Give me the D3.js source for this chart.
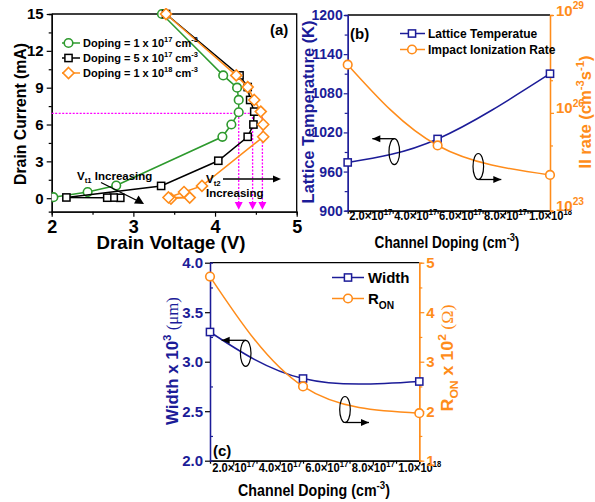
<!DOCTYPE html>
<html>
<head>
<meta charset="utf-8">
<script src="https://cdn.jsdelivr.net/npm/d3@7"></script>
<style>
  body { margin: 0; background: #fff; }
  svg text { font-family: 'Liberation Sans', Arial, sans-serif; font-weight: bold; }
</style>
</head>
<body>
<div id="chart"></div>
<script>
// ---- data: panel (a) drain current vs drain voltage
const vdGreen = [2.02, 2.44, 2.79, 4.09, 4.20, 4.29, 4.29, 4.27, 4.10, 3.35];
const idGreen = [0.08, 0.5, 1.03, 5.0, 6.0, 7.0, 8.0, 9.0, 10.0, 15.0];
const vdBlack = [2.84, 2.76, 2.68, 2.18, 3.34, 4.04, 4.40, 4.47, 4.48, 4.43, 4.40, 4.30, 3.40];
const idBlack = [0.03, 0.05, 0.04, 0.06, 1.0, 3.05, 5.0, 6.0, 7.05, 8.0, 9.05, 10.0, 15.0];
const vdOrange = [3.46, 3.69, 3.43, 3.62, 3.84, 4.59, 4.59, 4.56, 4.48, 4.40, 4.26, 3.40];
const idOrange = [-0.03, 0.05, 0.06, 0.5, 1.0, 5.0, 6.0, 7.05, 8.0, 9.05, 10.0, 15.0];
const dopingLabels = ["1 x 10", "5 x 10", "1 x 10"];
const dopingExp = ["17", "17", "18"];
const vt2 = [4.29, 4.46, 4.58];
const holdCurrent = 6.9;

// ---- data: panel (b) and (c) vs channel doping
const doping = [1e17, 5e17, 1e18];
const latticeTemp = [974, 1010, 1110];
const iiRate = [3.0e27, 1.0e25, 1.25e24];
const widthVals = [3.30, 2.83, 2.80];
const ronVals = [4.72, 2.50, 1.96];
const dopingTicks = [2e17, 4e17, 6e17, 8e17, 1e18];

const navy = "#1c1c98", orange = "#ff8c1a", green = "#2e9a2e", magenta = "#ff00ff";

const svg = d3.select("#chart").append("svg")
  .attr("width", 595).attr("height", 502);

// text with sup/sub parts: [[str, 'n'|'sup'|'sub'|'sym'], ...]
function rich(sel, parts, size) {
  let prev = 0;
  parts.forEach(([s, t]) => {
    const shift = t === "sup" ? -0.42 * size : t === "sub" ? 0.3 * size : 0;
    const ts = sel.append("tspan")
      .attr("dy", shift - prev)
      .attr("font-size", (t === "n" || t === "sym") ? size : size * 0.68)
      .text(s);
    if (t === "sym") ts.style("font-family", "'Liberation Serif', serif").style("font-weight", "normal");
    prev = shift;
  });
  return sel;
}

// axis title squeezed to the width measured on the reference
function title(g, x, y, rot, parts, size, color, width) {
  const t = g.append("text").attr("text-anchor", "middle").attr("fill", color);
  rich(t, parts, size);
  const k = width / t.node().getComputedTextLength();
  t.attr("transform", `translate(${x},${y}) rotate(${rot}) scale(${k},1)`);
  return t;
}

function sciLabel(d) {
  const e = Math.floor(Math.log10(d) + 1e-9);
  const m = d / Math.pow(10, e);
  return [[m.toFixed(1) + "\u00d710", "n"], [String(e), "sup"]];
}

function sciTicks(g) {
  g.selectAll(".tick text").each(function (d) {
    const t = d3.select(this).text(null);
    rich(t, sciLabel(d), 12);
    const k = 43 / this.getComputedTextLength();
    t.attr("transform", `scale(${k},1)`);
  });
}

function styleAxis(g, color, size) {
  g.select(".domain").attr("stroke", color).attr("stroke-width", 1.3);
  g.selectAll(".tick line").attr("stroke", color).attr("stroke-width", 1.2);
  g.selectAll(".tick text").attr("fill", color).attr("font-size", size)
    .attr("font-family", "'Liberation Sans', Arial, sans-serif").attr("font-weight", "bold");
}

function arrowHead(g, x, y, dir, color) {
  const s = dir === "left" ? -1 : 1;
  g.append("path")
    .attr("d", `M${x},${y} L${x - s * 8},${y - 3.5} L${x - s * 8},${y + 3.5} Z`)
    .attr("fill", color || "#000");
}

function ellipseArrow(g, cx, cy, dir, len) {
  g.append("ellipse").attr("cx", cx).attr("cy", cy).attr("rx", 5.3).attr("ry", 13)
    .attr("fill", "none").attr("stroke", "#000").attr("stroke-width", 1.2);
  const y = dir === "left" ? cy - 13 : cy + 13;
  const x2 = dir === "left" ? cx - len : cx + len;
  g.append("line").attr("x1", cx).attr("x2", x2).attr("y1", y).attr("y2", y)
    .attr("stroke", "#000").attr("stroke-width", 1.3);
  arrowHead(g, x2, y, dir);
}

function marker(g, type, x, y, color) {
  if (type === "circle") {
    g.append("circle").attr("cx", x).attr("cy", y).attr("r", 4.3)
      .attr("fill", "#fff").attr("stroke", color).attr("stroke-width", 1.6);
  } else if (type === "square") {
    g.append("rect").attr("x", x - 3.6).attr("y", y - 3.6).attr("width", 7.2).attr("height", 7.2)
      .attr("fill", "#fff").attr("stroke", color).attr("stroke-width", 1.5);
  } else {
    g.append("path").attr("d", `M${x},${y - 5.5} L${x + 5.5},${y} L${x},${y + 5.5} L${x - 5.5},${y} Z`)
      .attr("fill", "#fff").attr("stroke", color).attr("stroke-width", 1.6);
  }
}

// ================= panel (a) =================
const A = { l: 51.7, r: 296.7, t: 14, b: 211.7 };
const xa = d3.scaleLinear().domain([2, 5]).range([A.l, A.r]);
const ya = d3.scaleLinear().domain([-1.1, 15]).range([A.b, A.t]);
const ga = svg.append("g");

ga.append("clipPath").attr("id", "clipA").append("rect")
  .attr("x", A.l).attr("y", A.t - 6).attr("width", A.r - A.l).attr("height", A.b - A.t + 6);

ga.append("g").attr("transform", `translate(0,${A.b})`)
  .call(d3.axisBottom(xa).tickValues([2, 3, 4, 5]).tickSize(5).tickSizeOuter(0).tickPadding(4).tickFormat(d3.format("d")))
  .call(g => styleAxis(g, "#000", 18));
ga.append("g").attr("transform", `translate(0,${A.b})`)
  .call(d3.axisBottom(xa).tickValues([2.5, 3.5, 4.5]).tickSize(3).tickFormat(""))
  .call(g => styleAxis(g, "#000", 0));
ga.append("g").attr("transform", `translate(${A.l},0)`)
  .call(d3.axisLeft(ya).tickValues([0, 3, 6, 9, 12, 15]).tickSize(5).tickSizeOuter(0).tickPadding(3).tickFormat(d3.format("d")))
  .call(g => styleAxis(g, "#000", 15));
ga.append("g").attr("transform", `translate(${A.l},0)`)
  .call(d3.axisLeft(ya).tickValues([1.5, 4.5, 7.5, 10.5, 13.5]).tickSize(3).tickFormat(""))
  .call(g => styleAxis(g, "#000", 0));
ga.append("path").attr("d", `M${A.l},${A.t} H${A.r} V${A.b}`)
  .attr("fill", "none").attr("stroke", "#000").attr("stroke-width", 1.3);

// magenta guides
ga.append("line").attr("x1", A.l).attr("x2", xa(vt2[2])).attr("y1", ya(holdCurrent)).attr("y2", ya(holdCurrent))
  .attr("stroke", magenta).attr("stroke-width", 1.3).attr("stroke-dasharray", "2,1.5");
vt2.forEach(v => {
  ga.append("line").attr("x1", xa(v)).attr("x2", xa(v)).attr("y1", ya(holdCurrent)).attr("y2", ya(-0.5))
    .attr("stroke", magenta).attr("stroke-width", 1.3).attr("stroke-dasharray", "2,1.5");
  ga.append("path")
    .attr("d", `M${xa(v) - 4},${ya(-0.3)} L${xa(v) + 4},${ya(-0.3)} L${xa(v)},${ya(-0.95)} Z`)
    .attr("fill", magenta);
});

const seriesA = [
  { vd: vdGreen, id: idGreen, color: green, type: "circle" },
  { vd: vdBlack, id: idBlack, color: "#000", type: "square" },
  { vd: vdOrange, id: idOrange, color: orange, type: "diamond" }
];
const lineA = d3.line().x(d => xa(d[0])).y(d => ya(d[1]));
seriesA.forEach(s => {
  const pts = s.vd.map((v, i) => [v, s.id[i]]);
  const gs = ga.append("g").attr("clip-path", "url(#clipA)");
  gs.append("path").attr("d", lineA(pts)).attr("fill", "none")
    .attr("stroke", s.color).attr("stroke-width", 1.5);
  pts.forEach(p => marker(gs, s.type, xa(p[0]), ya(p[1]), s.color));
});

// legend (a)
seriesA.forEach((s, i) => {
  const y = 43 + i * 15;
  ga.append("line").attr("x1", 62).attr("x2", 80).attr("y1", y).attr("y2", y)
    .attr("stroke", s.color).attr("stroke-width", 1.5);
  marker(ga, s.type, 68.5, y, s.color);
  const t = ga.append("text").attr("x", 83).attr("y", y + 4);
  rich(t, [["Doping = " + dopingLabels[i], "n"], [dopingExp[i], "sup"], [" cm", "n"], ["-3", "sup"]], 11);
});

ga.append("text").attr("x", 270).attr("y", 35).attr("font-size", 15).text("(a)");

// V_t1 annotation
rich(ga.append("text").attr("x", 77).attr("y", 180), [["V", "n"], ["t1", "sub"], [" Increasing", "n"]], 11.5);
ga.append("line").attr("x1", 101).attr("y1", 182.5).attr("x2", 139).attr("y2", 201.5)
  .attr("stroke", "#000").attr("stroke-width", 1.3);
ga.append("path").attr("d", "M144,204 L134,203.5 L138.5,195.5 Z").attr("fill", "#000");

// V_t2 annotation
rich(ga.append("text").attr("x", 206).attr("y", 183), [["V", "n"], ["t2", "sub"]], 11.5);
ga.append("line").attr("x1", 223).attr("x2", 274).attr("y1", 179).attr("y2", 179)
  .attr("stroke", "#000").attr("stroke-width", 1.3);
arrowHead(ga, 281, 179, "right");
ga.append("text").attr("x", 206).attr("y", 197).attr("font-size", 11.5).text("Increasing");

title(ga, 171, 249, 0, [["Drain Voltage (V)", "n"]], 18, "#000", 149);
title(ga, 26, 114, -90, [["Drain Current (mA)", "n"]], 17, "#000", 142);

// ================= panel (b) =================
const B = { l: 347.7, r: 550, t: 15, b: 210.7 };
const xb = d3.scaleLinear().domain([1e17, 1e18]).range([B.l, B.r]);
const ybL = d3.scaleLinear().domain([900, 1200]).range([B.b, B.t]);
const ybR = d3.scaleLog().domain([1e23, 1e29]).range([B.b, B.t]);
const gb = svg.append("g");

gb.append("line").attr("x1", B.l).attr("x2", B.r).attr("y1", B.t).attr("y2", B.t)
  .attr("stroke", "#000").attr("stroke-width", 1.3);

gb.append("g").attr("transform", `translate(0,${B.b})`)
  .call(d3.axisBottom(xb).tickValues(dopingTicks).tickSize(4).tickSizeOuter(0).tickPadding(5))
  .call(g => styleAxis(g, "#000", 12))
  .call(sciTicks);
gb.append("g").attr("transform", `translate(0,${B.b})`)
  .call(d3.axisBottom(xb).tickValues([3e17, 5e17, 7e17, 9e17]).tickSize(3).tickFormat(""))
  .call(g => styleAxis(g, "#000", 0));

gb.append("g").attr("transform", `translate(${B.l},0)`)
  .call(d3.axisLeft(ybL).tickValues(d3.range(900, 1201, 60)).tickSize(4).tickSizeOuter(0).tickPadding(1).tickFormat(d3.format("d")))
  .call(g => styleAxis(g, navy, 14));
gb.append("g").attr("transform", `translate(${B.l},0)`)
  .call(d3.axisLeft(ybL).tickValues(d3.range(930, 1200, 60)).tickSize(3).tickFormat(""))
  .call(g => styleAxis(g, navy, 0));

gb.append("g").attr("transform", `translate(${B.r},0)`)
  .call(d3.axisRight(ybR).tickValues([1e23, 1e26, 1e29]).tickSize(4).tickSizeOuter(0).tickPadding(2))
  .call(g => styleAxis(g, orange, 15))
  .call(g => g.selectAll(".tick text").each(function (d) {
    const t = d3.select(this).text(null);
    rich(t, [["10", "n"], [String(Math.round(Math.log10(d))), "sup"]], 15);
  }));
gb.append("g").attr("transform", `translate(${B.r},0)`)
  .call(d3.axisRight(ybR).tickValues([1e24, 1e25, 1e27, 1e28]).tickSize(3).tickFormat(""))
  .call(g => styleAxis(g, orange, 0));

const curveB1 = d3.line().curve(d3.curveNatural).x((d, i) => xb(doping[i])).y(d => ybL(d));
const curveB2 = d3.line().curve(d3.curveNatural).x((d, i) => xb(doping[i])).y(d => ybR(d));
gb.append("path").attr("d", curveB1(latticeTemp)).attr("fill", "none").attr("stroke", navy).attr("stroke-width", 1.5);
gb.append("path").attr("d", curveB2(iiRate)).attr("fill", "none").attr("stroke", orange).attr("stroke-width", 1.5);
latticeTemp.forEach((v, i) => marker(gb, "square", xb(doping[i]), ybL(v), navy));
iiRate.forEach((v, i) => marker(gb, "circle", xb(doping[i]), ybR(v), orange));

ellipseArrow(gb, 394.3, 151.7, "left", 22);
ellipseArrow(gb, 478.3, 166.5, "right", 23);

gb.append("text").attr("x", 350).attr("y", 39).attr("font-size", 15).text("(b)");
[["Lattice Temperatue", navy, "square"], ["Impact Ionization Rate", orange, "circle"]].forEach((d, i) => {
  const y = 33.5 + i * 16;
  gb.append("line").attr("x1", 400).attr("x2", 425).attr("y1", y).attr("y2", y)
    .attr("stroke", d[1]).attr("stroke-width", 1.5);
  marker(gb, d[2], 412, y, d[1]);
  gb.append("text").attr("x", 428).attr("y", y + 4.5).attr("font-size", 12).text(d[0]);
});

title(gb, 447, 248, 0, [["Channel Doping (cm", "n"], ["-3", "sup"], [")", "n"]], 16, "#000", 145);
title(gb, 314, 112, -90, [["Lattice Temperature (K)", "n"]], 17, navy, 183);
title(gb, 591, 112, -90, [["II rate (cm", "n"], ["-3", "sup"], ["s", "n"], ["-1", "sup"], [")", "n"]], 17, orange, 113);

// ================= panel (c) =================
const C = { l: 210, r: 419.3, t: 262.7, b: 460.7 };
const xc = d3.scaleLinear().domain([1e17, 1e18]).range([C.l, C.r]);
const ycL = d3.scaleLinear().domain([2, 4]).range([C.b, C.t]);
const ycR = d3.scaleLinear().domain([1, 5]).range([C.b, C.t]);
const gc = svg.append("g");

gc.append("line").attr("x1", C.l).attr("x2", C.r).attr("y1", C.t).attr("y2", C.t)
  .attr("stroke", "#000").attr("stroke-width", 1.3);

gc.append("g").attr("transform", `translate(0,${C.b})`)
  .call(d3.axisBottom(xc).tickValues(dopingTicks).tickSize(4).tickSizeOuter(0).tickPadding(7))
  .call(g => styleAxis(g, "#000", 12))
  .call(sciTicks);
gc.append("g").attr("transform", `translate(0,${C.b})`)
  .call(d3.axisBottom(xc).tickValues([3e17, 5e17, 7e17, 9e17]).tickSize(3).tickFormat(""))
  .call(g => styleAxis(g, "#000", 0));

gc.append("g").attr("transform", `translate(${C.l},0)`)
  .call(d3.axisLeft(ycL).tickValues([2, 2.5, 3, 3.5, 4]).tickSize(5).tickSizeOuter(0).tickPadding(2).tickFormat(d3.format(".1f")))
  .call(g => styleAxis(g, navy, 15))
  .call(g => g.selectAll(".tick line").attr("stroke", "#000"));
gc.append("g").attr("transform", `translate(${C.l},0)`)
  .call(d3.axisRight(ycL).tickValues([2.25, 2.75, 3.25, 3.75]).tickSize(3).tickFormat(""))
  .call(g => styleAxis(g, navy, 0));

gc.append("g").attr("transform", `translate(${C.r},0)`)
  .call(d3.axisRight(ycR).tickValues([1, 2, 3, 4, 5]).tickSize(5).tickSizeOuter(0).tickPadding(2).tickFormat(d3.format("d")))
  .call(g => styleAxis(g, orange, 15));
gc.append("g").attr("transform", `translate(${C.r},0)`)
  .call(d3.axisRight(ycR).tickValues([1.5, 2.5, 3.5, 4.5]).tickSize(3).tickFormat(""))
  .call(g => styleAxis(g, orange, 0));

const curveC1 = d3.line().curve(d3.curveNatural).x((d, i) => xc(doping[i])).y(d => ycL(d));
const curveC2 = d3.line().curve(d3.curveNatural).x((d, i) => xc(doping[i])).y(d => ycR(d));
gc.append("path").attr("d", curveC1(widthVals)).attr("fill", "none").attr("stroke", navy).attr("stroke-width", 1.5);
gc.append("path").attr("d", curveC2(ronVals)).attr("fill", "none").attr("stroke", orange).attr("stroke-width", 1.5);
widthVals.forEach((v, i) => marker(gc, "square", xc(doping[i]), ycL(v), navy));
ronVals.forEach((v, i) => marker(gc, "circle", xc(doping[i]), ycR(v), orange));

ellipseArrow(gc, 245.7, 353.3, "left", 24);
ellipseArrow(gc, 345, 409.5, "right", 24);

gc.append("text").attr("x", 213).attr("y", 456).attr("font-size", 15).text("(c)");
gc.append("line").attr("x1", 332).attr("x2", 364).attr("y1", 277.5).attr("y2", 277.5)
  .attr("stroke", navy).attr("stroke-width", 1.5);
marker(gc, "square", 348, 277.5, navy);
gc.append("text").attr("x", 368).attr("y", 283).attr("font-size", 15).text("Width");
gc.append("line").attr("x1", 332).attr("x2", 364).attr("y1", 298.5).attr("y2", 298.5)
  .attr("stroke", orange).attr("stroke-width", 1.5);
marker(gc, "circle", 348, 298.5, orange);
rich(gc.append("text").attr("x", 368).attr("y", 304), [["R", "n"], ["ON", "sub"]], 15);

title(gc, 314, 496, 0, [["Channel Doping (cm", "n"], ["-3", "sup"], [")", "n"]], 16, "#000", 152);
title(gc, 178, 361, -90, [["Width x 10", "n"], ["3", "sup"], [" (\u03bcm)", "sym"]], 17, navy, 128);
title(gc, 453, 358, -90, [["R", "n"], ["ON", "sub"], [" x 10", "n"], ["2", "sup"], [" (\u03a9)", "sym"]], 17, orange, 107);
</script>
</body>
</html>
